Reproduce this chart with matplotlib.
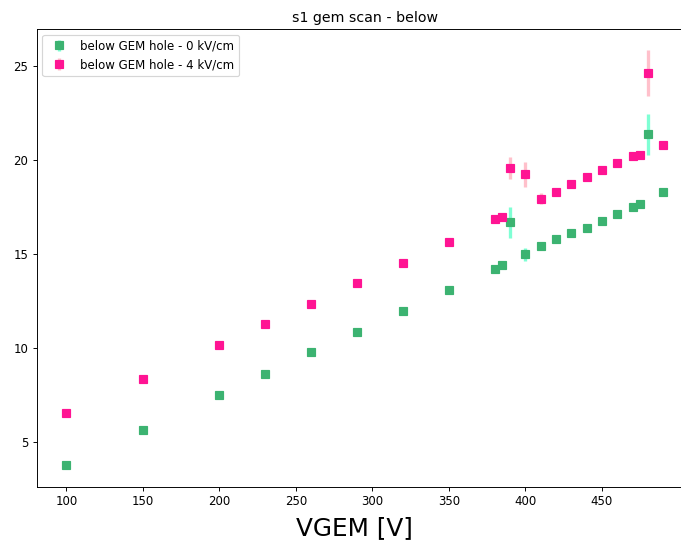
import numpy as np
import matplotlib.pyplot as plt

# GEM voltage scan points
vgem_0 = [100, 150, 200, 230, 260, 290, 320, 350, 380, 385, 390, 400, 410,
          420, 430, 440, 450, 460, 470, 475, 480, 490]
s1_0 = [3.79, 5.65, 7.50, 8.62, 9.79, 10.85, 11.97, 13.09, 14.20, 14.41,
        16.70, 15.00, 15.43, 15.80, 16.12, 16.38, 16.76, 17.13, 17.50, 17.66,
        21.38, 18.30]
err_0 = [0.05, 0.05, 0.05, 0.05, 0.05, 0.05, 0.05, 0.05, 0.1, 0.1,
         0.82, 0.35, 0.1, 0.1, 0.1, 0.1, 0.1, 0.1, 0.1, 0.1, 1.1, 0.1]

vgem_4 = [100, 150, 200, 230, 260, 290, 320, 350, 380, 385, 390, 400, 410,
          420, 430, 440, 450, 460, 470, 475, 480, 490]
s1_4 = [6.58, 8.35, 10.16, 11.28, 12.37, 13.46, 14.54, 15.68, 16.88, 16.98,
        19.59, 19.26, 17.96, 18.34, 18.74, 19.11, 19.47, 19.88, 20.23, 20.28,
        24.66, 20.81]
err_4 = [0.05, 0.05, 0.05, 0.05, 0.05, 0.05, 0.05, 0.05, 0.1, 0.1,
         0.6, 0.67, 0.3, 0.1, 0.1, 0.1, 0.1, 0.1, 0.1, 0.1, 1.22, 0.1]

xticks = [100, 150, 200, 250, 300, 350, 400, 450]

fig = plt.figure(figsize=(681 / 85, 544 / 85), dpi=85)
ax = fig.add_axes([0.0536, 0.1048, 0.964, 0.842])

ax.errorbar(vgem_0, s1_0, yerr=err_0, fmt='s', color='mediumseagreen',
            ecolor='aquamarine', elinewidth=2.8,
            label='below GEM hole - 0 kV/cm')
ax.errorbar(vgem_4, s1_4, yerr=err_4, fmt='s', color='deeppink',
            ecolor='pink', elinewidth=2.8,
            label='below GEM hole - 4 kV/cm')

ax.set_xticks(xticks)
ax.set_xlim(80.5, 509.5)
ax.set_title('s1 gem scan - below')
ax.set_xlabel('VGEM [V]', fontsize=21, x=0.485, labelpad=7)
ax.legend(loc='upper left')

fig.savefig('out.png', dpi=85)
